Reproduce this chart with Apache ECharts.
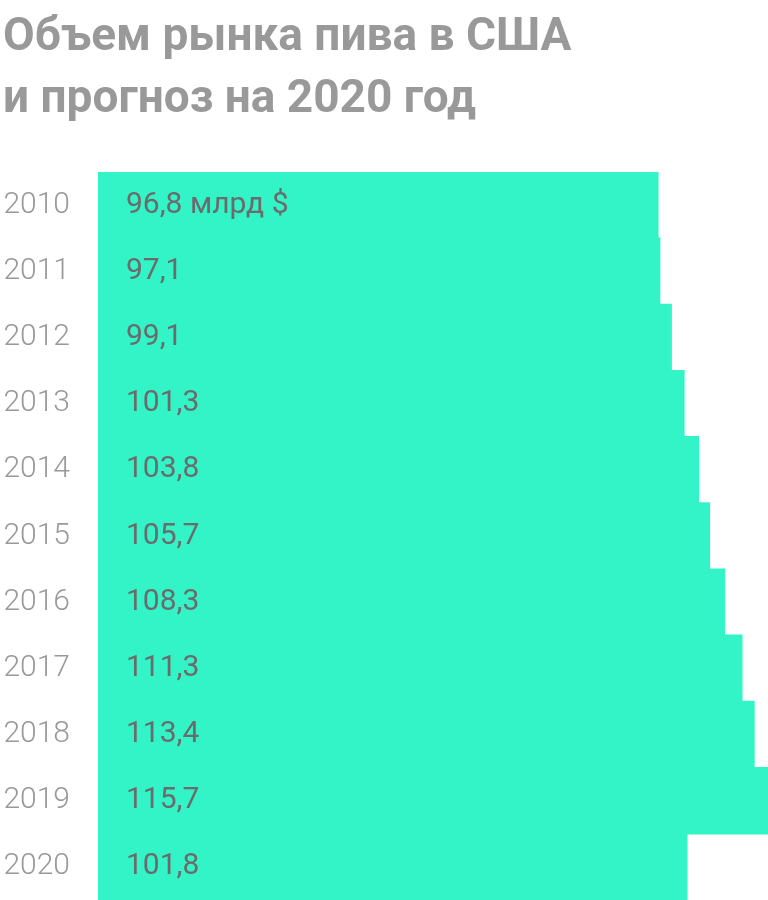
<!DOCTYPE html>
<html>
<head>
<meta charset="utf-8">
<script src="https://cdn.jsdelivr.net/npm/echarts@6/dist/echarts.min.js"></script>
<style>
  html, body { margin: 0; padding: 0; background: #fff; }
  #chart { width: 768px; height: 900px; }
</style>
</head>
<body>
<div id="chart"></div>
<script>
var years = ['2010', '2011', '2012', '2013', '2014', '2015', '2016', '2017', '2018', '2019', '2020'];
var values = [96.8, 97.1, 99.1, 101.3, 103.8, 105.7, 108.3, 111.3, 113.4, 115.7, 101.8];
var unit = ' млрд $';

var chart = echarts.init(document.getElementById('chart'));

var option = {
    animation: false,
    title: {
        text: 'Объем рынка пива в США\nи прогноз на 2020 год',
        left: -2,
        top: 2,
        textStyle: {
            fontFamily: 'Roboto',
            fontSize: 46,
            fontWeight: 'bold',
            color: '#999999',
            lineHeight: 62
        }
    },
    grid: {
        left: 98,
        right: 0,
        top: 172,
        bottom: 0
    },
    xAxis: {
        type: 'value',
        min: 0,
        max: 115.7,
        show: false
    },
    yAxis: {
        type: 'category',
        data: years,
        inverse: true,
        axisLine: { show: false },
        axisTick: { show: false },
        axisLabel: {
            margin: 28,
            fontFamily: 'Roboto',
            fontSize: 30,
            fontWeight: 300,
            color: '#999999'
        }
    },
    series: [{
        type: 'bar',
        data: values,
        // a little wider than the band so neighbouring bars overlap, no seams
        barWidth: '102%',
        itemStyle: { color: '#33f4c6' },
        label: {
            show: true,
            position: 'insideLeft',
            distance: 28,
            fontFamily: 'Roboto',
            fontSize: 30,
            color: '#6b6a6c',
            formatter: function (p) {
                var s = p.value.toFixed(1).replace('.', ',');
                return p.dataIndex === 0 ? s + unit : s;
            }
        }
    }]
};

chart.setOption(option);
</script>
</body>
</html>
